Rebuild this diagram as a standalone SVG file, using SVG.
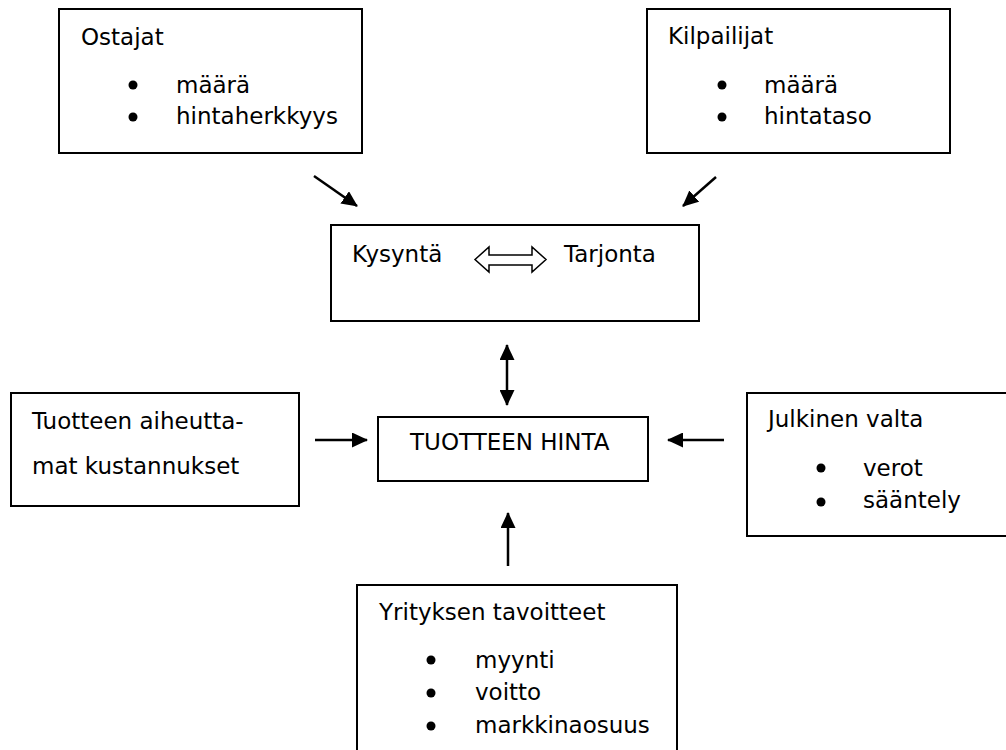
<svg xmlns="http://www.w3.org/2000/svg" width="1006" height="750" viewBox="0 0 1006 750">
<style>
.box{fill:#fff;stroke:#000;stroke-width:2}
text{font-family:"DejaVu Sans","Liberation Sans",sans-serif;font-size:23px;fill:#000}
.dot{fill:#000}
.con{stroke:#000;stroke-width:2.5;fill:none}
</style>
<defs>
<marker id="ah" markerUnits="userSpaceOnUse" markerWidth="16" markerHeight="15" viewBox="0 0 16 15" refX="15" refY="7.5" orient="auto-start-reverse">
<path d="M0,0 L16,7.5 L0,15 z" fill="#000"/>
</marker>
</defs>
<rect width="1006" height="750" fill="#fff"/>
<g id="ostajat">
<rect class="box" x="59" y="9" width="303" height="144"/>
<text x="81" y="45">Ostajat</text>
<circle class="dot" cx="133" cy="85" r="4.5"/>
<circle class="dot" cx="133" cy="117" r="4.5"/>
<text x="176" y="93">määrä</text>
<text x="176" y="124">hintaherkkyys</text>
</g>
<g id="kilpailijat">
<rect class="box" x="647" y="9" width="303" height="144"/>
<text x="668" y="44">Kilpailijat</text>
<circle class="dot" cx="722" cy="85" r="4.5"/>
<circle class="dot" cx="722" cy="117" r="4.5"/>
<text x="764" y="93">määrä</text>
<text x="764" y="124">hintataso</text>
</g>
<g id="kysynta">
<rect class="box" x="331" y="225" width="368" height="96"/>
<text x="352" y="262">Kysyntä</text>
<text x="564" y="262">Tarjonta</text>
<path d="M475,259.5 L489,247 L489,255 L532,255 L532,247 L546,259.5 L532,272 L532,265 L489,265 L489,272 Z" fill="#fff" stroke="#000" stroke-width="1.5"/>
</g>
<g id="hinta">
<rect class="box" x="378" y="417" width="270" height="64"/>
<text x="410" y="450">TUOTTEEN HINTA</text>
</g>
<g id="kustannukset">
<rect class="box" x="11" y="393" width="288" height="113"/>
<text x="32" y="429">Tuotteen aiheutta-</text>
<text x="32" y="474">mat kustannukset</text>
</g>
<g id="julkinen">
<rect class="box" x="747" y="393" width="265" height="143"/>
<text x="768" y="427">Julkinen valta</text>
<circle class="dot" cx="821" cy="468" r="4.5"/>
<circle class="dot" cx="821" cy="502" r="4.5"/>
<text x="863" y="476">verot</text>
<text x="863" y="508">sääntely</text>
</g>
<g id="tavoitteet">
<rect class="box" x="357" y="585" width="320" height="180"/>
<text x="379" y="620">Yrityksen tavoitteet</text>
<circle class="dot" cx="431" cy="660" r="4.5"/>
<circle class="dot" cx="431" cy="693" r="4.5"/>
<circle class="dot" cx="431" cy="726" r="4.5"/>
<text x="475" y="668">myynti</text>
<text x="475" y="700">voitto</text>
<text x="475" y="733">markkinaosuus</text>
</g>
<g id="connectors">
<line class="con" x1="314" y1="176" x2="357" y2="206" marker-end="url(#ah)"/>
<line class="con" x1="716" y1="177" x2="683" y2="206" marker-end="url(#ah)"/>
<line class="con" x1="507" y1="345" x2="507" y2="405" marker-start="url(#ah)" marker-end="url(#ah)"/>
<line class="con" x1="315" y1="440" x2="367" y2="440" marker-end="url(#ah)"/>
<line class="con" x1="724" y1="440" x2="668" y2="440" marker-end="url(#ah)"/>
<line class="con" x1="508" y1="566" x2="508" y2="513" marker-end="url(#ah)"/>
</g>
</svg>
